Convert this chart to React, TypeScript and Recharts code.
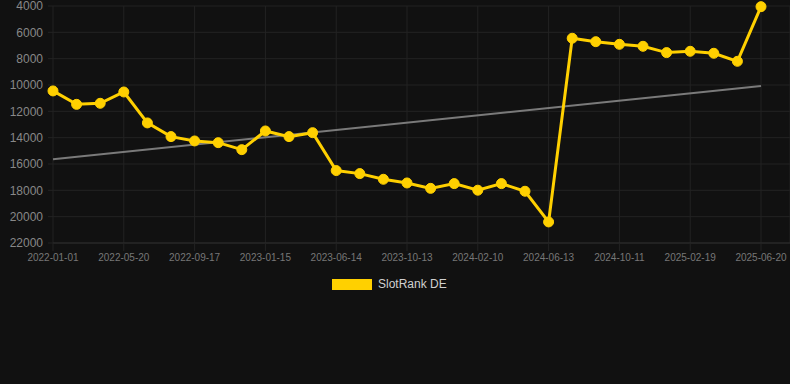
import { LineChart, Line, XAxis, YAxis, CartesianGrid } from 'recharts'

const dates = [
  '2022-01-01', '2022-02-16', '2022-04-03', '2022-05-20', '2022-07-09', '2022-08-13',
  '2022-09-17', '2022-10-28', '2022-12-06', '2023-01-15', '2023-03-05', '2023-04-24',
  '2023-06-14', '2023-07-24', '2023-09-02', '2023-10-13', '2023-11-22', '2024-01-01',
  '2024-02-10', '2024-03-25', '2024-04-30', '2024-06-13', '2024-07-23', '2024-09-01',
  '2024-10-11', '2024-11-26', '2025-01-05', '2025-02-19', '2025-03-31', '2025-05-10',
  '2025-06-20',
]

const rankDE = [
  10450, 11470, 11390, 10530, 12880, 13920, 14250, 14380, 14910, 13490, 13920, 13620,
  16500, 16730, 17160, 17440, 17850, 17490, 17990, 17490, 18070, 20400, 6450, 6710,
  6910, 7060, 7540, 7440, 7590, 8200, 4050,
]

// trend line endpoints (linear fit as drawn in the picture)
const trendStart = 15640
const trendEnd = 10080

const yTicks = [4000, 6000, 8000, 10000, 12000, 14000, 16000, 18000, 20000, 22000]

const last = dates.length - 1
const data = dates.map((date, i) => ({
  date,
  rank: rankDE[i],
  trend: i === 0 ? trendStart : i === last ? trendEnd : null,
}))

const font = '"Liberation Sans", Arial, sans-serif'
const gridColor = '#232323'

export default function App() {
  return (
    <div style={{ position: 'absolute', left: 0, top: 0, width: 790, height: 384, background: '#111111' }}>
      <LineChart width={790} height={384} data={data} margin={{ top: 6, right: 0, left: 0, bottom: 121 }}>
        <CartesianGrid stroke={gridColor} />
        <XAxis
          dataKey="date"
          interval={2}
          padding={{ left: 0, right: 29 }}
          height={20}
          tick={{ fontFamily: font, fontSize: 10, fill: '#777777' }}
          tickSize={8}
          tickMargin={3}
          tickLine={{ stroke: gridColor }}
          axisLine={{ stroke: '#2c2c2c' }}
        />
        <YAxis
          reversed
          domain={[4000, 22000]}
          ticks={yTicks}
          interval={0}
          width={53}
          tick={{ fontFamily: font, fontSize: 12, fill: '#888888' }}
          tickSize={5}
          tickMargin={5}
          tickLine={{ stroke: gridColor }}
          axisLine={false}
        />
        <Line
          type="linear"
          dataKey="trend"
          stroke="#7a7a7a"
          strokeWidth={2}
          dot={false}
          activeDot={false}
          connectNulls
          isAnimationActive={false}
        />
        <Line
          type="linear"
          dataKey="rank"
          name="SlotRank DE"
          stroke="#FFD000"
          strokeWidth={3}
          dot={{ r: 5, fill: '#FFD000', stroke: '#FFD000', strokeWidth: 1 }}
          activeDot={false}
          isAnimationActive={false}
        />
      </LineChart>
      <div
        style={{
          position: 'absolute',
          top: 278,
          left: 332,
          height: 12,
          display: 'flex',
          alignItems: 'center',
          fontFamily: font,
        }}
      >
        <span style={{ display: 'inline-block', width: 40, height: 11, background: '#FFD000', marginRight: 6 }} />
        <span style={{ fontSize: 12, color: '#d0d0d0', whiteSpace: 'nowrap' }}>SlotRank DE</span>
      </div>
    </div>
  )
}
